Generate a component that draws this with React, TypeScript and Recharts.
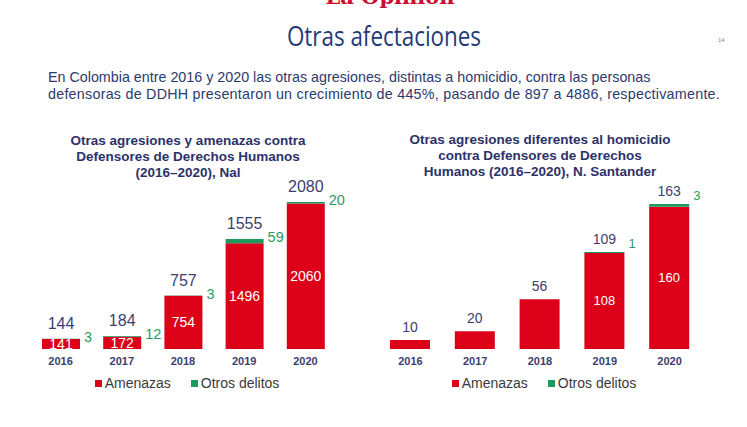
import React from "react";
import { BarChart, Bar, XAxis, YAxis, Legend } from "recharts";

const YEARS = ["2016", "2017", "2018", "2019", "2020"];

// Nacional
const NAL_AMENAZAS = [141, 172, 754, 1496, 2060];
const NAL_OTROS = [3, 12, 3, 59, 20];
const NAL_TOTAL = [144, 184, 757, 1555, 2080];

// Norte de Santander
const NS_AMENAZAS = [10, 20, 56, 108, 160];
const NS_OTROS = [0, 0, 0, 1, 3];
const NS_TOTAL = [10, 20, 56, 109, 163];

const RED = "#dc0019";
const GREEN = "#1c9a5e";
const GREEN_TXT = "#2a9a62";
const NAVY = "#2c3169";
const NUM_NAVY = "#3b416f";
const NUM_FONT = "Liberation Sans, Arial, sans-serif";

const buildRows = (amen: number[], otros: number[], total: number[]) =>
  YEARS.map((year, i) => ({
    year,
    amenazas: amen[i],
    otros: otros[i],
    total: total[i],
  }));

interface StackProps {
  rows: { year: string; amenazas: number; otros: number; total: number }[];
  width: number;
  height: number;
  margin: { top: number; right: number; left: number; bottom: number };
  barSize: number;
  maxY: number;
  totalSize: number;
  innerSize: number;
  greenSize: number;
  totalGap: number;
  greenShift: number;
}

function StackChart(p: StackProps) {
  const renderLabel = (props: any) => {
    const { x, y, width, height, index } = props;
    const row = p.rows[index];
    if (!row) return null;
    const perUnit = height / row.amenazas;
    const top = y - row.otros * perUnit;
    const cx = x + width / 2;
    return (
      <g>
        <text
          x={cx}
          y={top - p.totalGap}
          textAnchor="middle"
          fill={NUM_NAVY}
          fontSize={p.totalSize}
          fontFamily={NUM_FONT}
        >
          {row.total}
        </text>
        {row.otros > 0 && (
          <>
            <text
              x={cx}
              y={y + height / 2}
              textAnchor="middle"
              dominantBaseline="central"
              fill="#ffffff"
              fontSize={p.innerSize}
              fontFamily={NUM_FONT}
            >
              {row.amenazas}
            </text>
            <text
              x={x + width + 4}
              y={top + p.greenShift}
              textAnchor="start"
              fill={GREEN_TXT}
              fontSize={p.greenSize}
              fontFamily={NUM_FONT}
            >
              {row.otros}
            </text>
          </>
        )}
      </g>
    );
  };

  const renderLegend = () => (
    <div
      style={{
        height: 22,
        display: "flex",
        justifyContent: "center",
        alignItems: "center",
        fontFamily: NUM_FONT,
        fontSize: 14,
        color: "#3a3a3a",
        paddingLeft: 8,
      }}
    >
      <span style={{ width: 7, height: 7, background: RED, marginRight: 3 }} />
      <span style={{ marginRight: 20 }}>Amenazas</span>
      <span style={{ width: 7, height: 7, background: GREEN, marginRight: 3 }} />
      <span>Otros delitos</span>
    </div>
  );

  return (
    <BarChart
      width={p.width}
      height={p.height}
      data={p.rows}
      margin={p.margin}
      barSize={p.barSize}
    >
      <XAxis
        dataKey="year"
        axisLine={false}
        tickLine={false}
        height={23}
        tick={{
          fill: NUM_NAVY,
          fontSize: 11,
          fontWeight: 700,
          fontFamily: NUM_FONT,
        }}
      />
      <YAxis hide domain={[0, p.maxY]} />
      <Legend verticalAlign="bottom" content={renderLegend} />
      <Bar
        dataKey="amenazas"
        name="Amenazas"
        stackId="a"
        fill={RED}
        isAnimationActive={false}
        label={renderLabel}
      />
      <Bar
        dataKey="otros"
        name="Otros delitos"
        stackId="a"
        fill={GREEN}
        isAnimationActive={false}
      />
    </BarChart>
  );
}

const titleStyle: React.CSSProperties = {
  position: "absolute",
  textAlign: "center",
  fontFamily: "Liberation Sans, Arial, sans-serif",
  fontWeight: 700,
  fontSize: 13.5,
  lineHeight: "16px",
  color: NAVY,
};

const lineStyle: React.CSSProperties = { height: 16, whiteSpace: "nowrap" };

export default function App() {
  const nal = buildRows(NAL_AMENAZAS, NAL_OTROS, NAL_TOTAL);
  const ns = buildRows(NS_AMENAZAS, NS_OTROS, NS_TOTAL);

  return (
    <div
      style={{
        position: "absolute",
        left: 0,
        top: 0,
        width: 747,
        height: 427,
        background: "#ffffff",
        overflow: "hidden",
      }}
    >
      <div
        style={{
          position: "absolute",
          top: -16,
          left: 0,
          width: 780,
          textAlign: "center",
          fontFamily: "DejaVu Serif, serif",
          fontWeight: 700,
          fontSize: 21,
          color: "#c8102e",
        }}
      >
        La Opinión
      </div>
      <div
        style={{
          position: "absolute",
          top: 20,
          left: 0,
          width: 768,
          textAlign: "center",
        }}
      >
        <span
          style={{
            display: "inline-block",
            fontFamily: "Open Sans, sans-serif",
            fontSize: 27,
            lineHeight: "32px",
            color: "#243a78",
            transform: "scaleX(0.83)",
          }}
        >
          Otras afectaciones
        </span>
      </div>
      <div
        style={{
          position: "absolute",
          top: 37,
          left: 718,
          fontFamily: NUM_FONT,
          fontSize: 6,
          color: "#888",
        }}
      >
        14
      </div>
      <div
        style={{
          position: "absolute",
          top: 69,
          left: 48,
          width: 690,
          fontFamily: "Liberation Sans, Arial, sans-serif",
          fontSize: 14.3,
          lineHeight: "16.5px",
          color: "#2b3a6e",
        }}
      >
        <div style={{ whiteSpace: "nowrap" }}>
          En Colombia entre 2016 y 2020 las otras agresiones, distintas a homicidio, contra las personas
        </div>
        <div style={{ whiteSpace: "nowrap", letterSpacing: 0.25 }}>
          defensoras de DDHH presentaron un crecimiento de 445%, pasando de 897 a 4886, respectivamente.
        </div>
      </div>

      <div style={{ ...titleStyle, left: 28, top: 133, width: 320 }}>
        <div style={lineStyle}>Otras agresiones y amenazas contra</div>
        <div style={lineStyle}>Defensores de Derechos Humanos</div>
        <div style={lineStyle}>(2016–2020), Nal</div>
      </div>
      <div style={{ ...titleStyle, left: 380, top: 132, width: 320 }}>
        <div style={lineStyle}>Otras agresiones diferentes al homicidio</div>
        <div style={lineStyle}>contra Defensores de Derechos</div>
        <div style={lineStyle}>Humanos (2016–2020), N. Santander</div>
      </div>

      <div style={{ position: "absolute", left: 0, top: 170 }}>
        <StackChart
          rows={nal}
          width={370}
          height={232}
          margin={{ top: 32, right: 34, left: 30, bottom: 8 }}
          barSize={38}
          maxY={2080}
          totalSize={16}
          innerSize={14}
          greenSize={14.5}
          totalGap={10}
          greenShift={3}
        />
      </div>
      <div style={{ position: "absolute", left: 370, top: 170 }}>
        <StackChart
          rows={ns}
          width={377}
          height={232}
          margin={{ top: 34, right: 45, left: 8, bottom: 8 }}
          barSize={40}
          maxY={163}
          totalSize={14}
          innerSize={13}
          greenSize={13}
          totalGap={8}
          greenShift={-4}
        />
      </div>
    </div>
  );
}
